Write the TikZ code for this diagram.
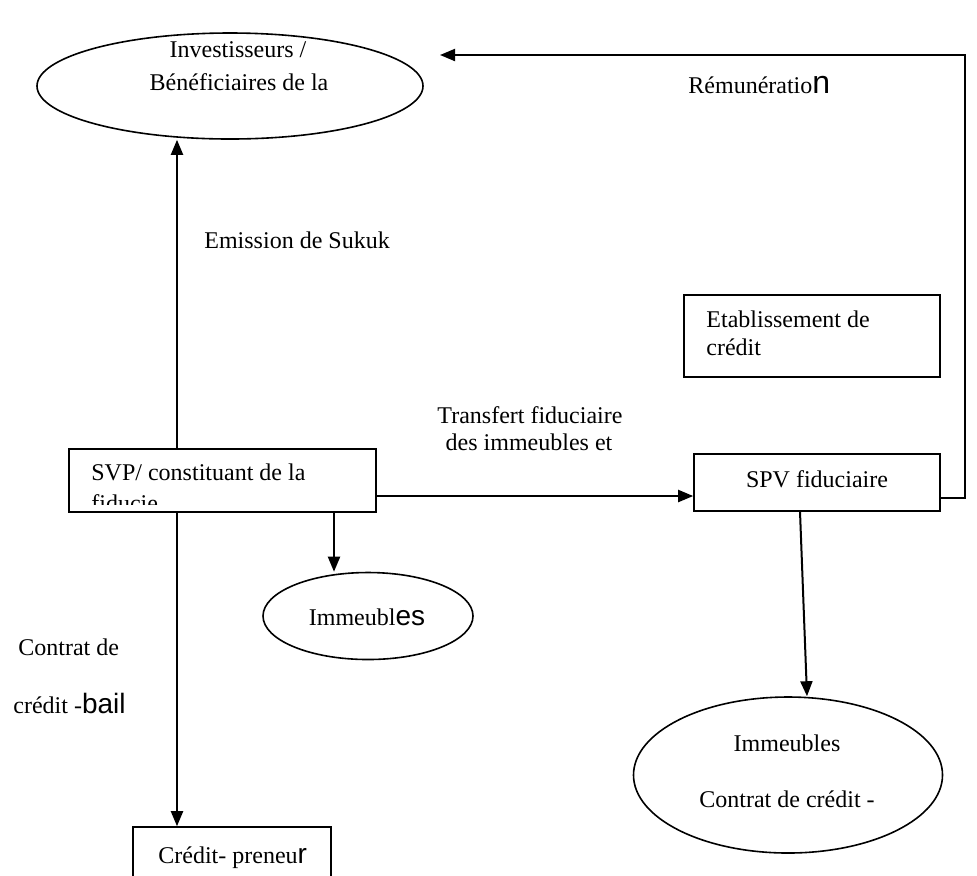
\documentclass[tikz,border=0pt]{standalone}
\usepackage{fontspec}
\setmainfont{Liberation Serif}
\newfontfamily\bigsansfam{Liberation Sans}
\usetikzlibrary{shapes.geometric,arrows.meta}
\newcommand\Bsans[2][14]{{\bigsansfam\fontsize{#1}{#1}\selectfont #2}}
\begin{document}
\begin{tikzpicture}[x=0.5pt,y=-0.5pt,
  every node/.style={font=\fontsize{12}{14}\selectfont, inner sep=0pt},
  shp/.style={draw, line width=0.8pt},
  ell/.style={shp, ellipse},
  box/.style={shp, rectangle},
  arr/.style={line width=1pt, -{Triangle[length=7.5pt,width=6pt]}},
  ln/.style={line width=1pt},
  tb/.style={anchor=base},
  tl/.style={anchor=base west}]
\useasboundingbox (0,0) rectangle (977,875);
\clip (0,0) rectangle (977,875);

% shapes
\node[ell, minimum width=193pt, minimum height=53pt] (inv) at (230,86) {};
\node[box, minimum width=128pt, minimum height=41pt] (est) at (812,336) {};
\node[box, minimum width=123pt, minimum height=28.5pt] (spv) at (817,482.5) {};
\node[box, minimum width=153.5pt, minimum height=31.5pt] (svp) at (222.5,480.5) {};
\node[ell, minimum width=105pt, minimum height=43.5pt] (simm) at (368,616) {};
\node[ell, minimum width=154.5pt, minimum height=78pt] (bimm) at (788,775) {};
\node[box, minimum width=99pt, minimum height=40pt] (pre) at (232,867) {};

% texts
\node[tb] (t1) at (238,57) {Investisseurs /};
\node[tb] (t2) at (239,90) {Bénéficiaires de la};
\node[tl] (trem) at (688,93) {Rémunératio\Bsans[16]{n}};
\node[tl] (temi) at (204,248) {Emission de Sukuk};
\node[tl] (test1) at (706,327) {Etablissement de};
\node[tl] (test2) at (706,355) {crédit};
\node[tb] (ttr1) at (530,423) {Transfert fiduciaire};
\node[tb] (ttr2) at (529,450) {des immeubles et};
\node[tl] (tsvp1) at (91,480) {SVP/ constituant de la};
\begin{scope}
  \clip (80,450) rectangle (370,504);
  \node[tl] (tsvp2) at (91,511) {fiducie};
\end{scope}
\node[tb] (tspv) at (817,487) {SPV fiduciaire};
\node[tb] (tsimm) at (367,625) {Immeubl\Bsans{es}};
\node[tl] (tcb1) at (18,655) {Contrat de};
\node[tl] (tcb2) at (13,713) {crédit -\Bsans{bail}};
\node[tb] (tbi1) at (787,751) {Immeubles};
\node[tb] (tbi2) at (787,807) {Contrat de crédit -};
\node[tl] (tpre) at (158,863) {Crédit- preneu\Bsans{r}};

% connectors
\coordinate (xL) at (177,0);
\coordinate (xM) at (334,0);
\coordinate (yH) at (0,496);
\coordinate (yR) at (0,498);
\coordinate (topR) at (965,55);
\coordinate (topEnd) at (440,55);
\draw[arr] (svp.north -| xL) -- (inv.south -| xL);
\draw[arr] (svp.south -| xL) -- (pre.north -| xL);
\draw[arr] (svp.south -| xM) -- (simm.north -| xM);
\draw[arr] (svp.east |- yH) -- (spv.west |- yH);
\draw[arr] ([xshift=-8.5pt]spv.south) -- ([xshift=9.5pt]bimm.north);
\draw[arr] (spv.east |- yR) -| (topR) -- (topEnd);
\end{tikzpicture}
\end{document}
